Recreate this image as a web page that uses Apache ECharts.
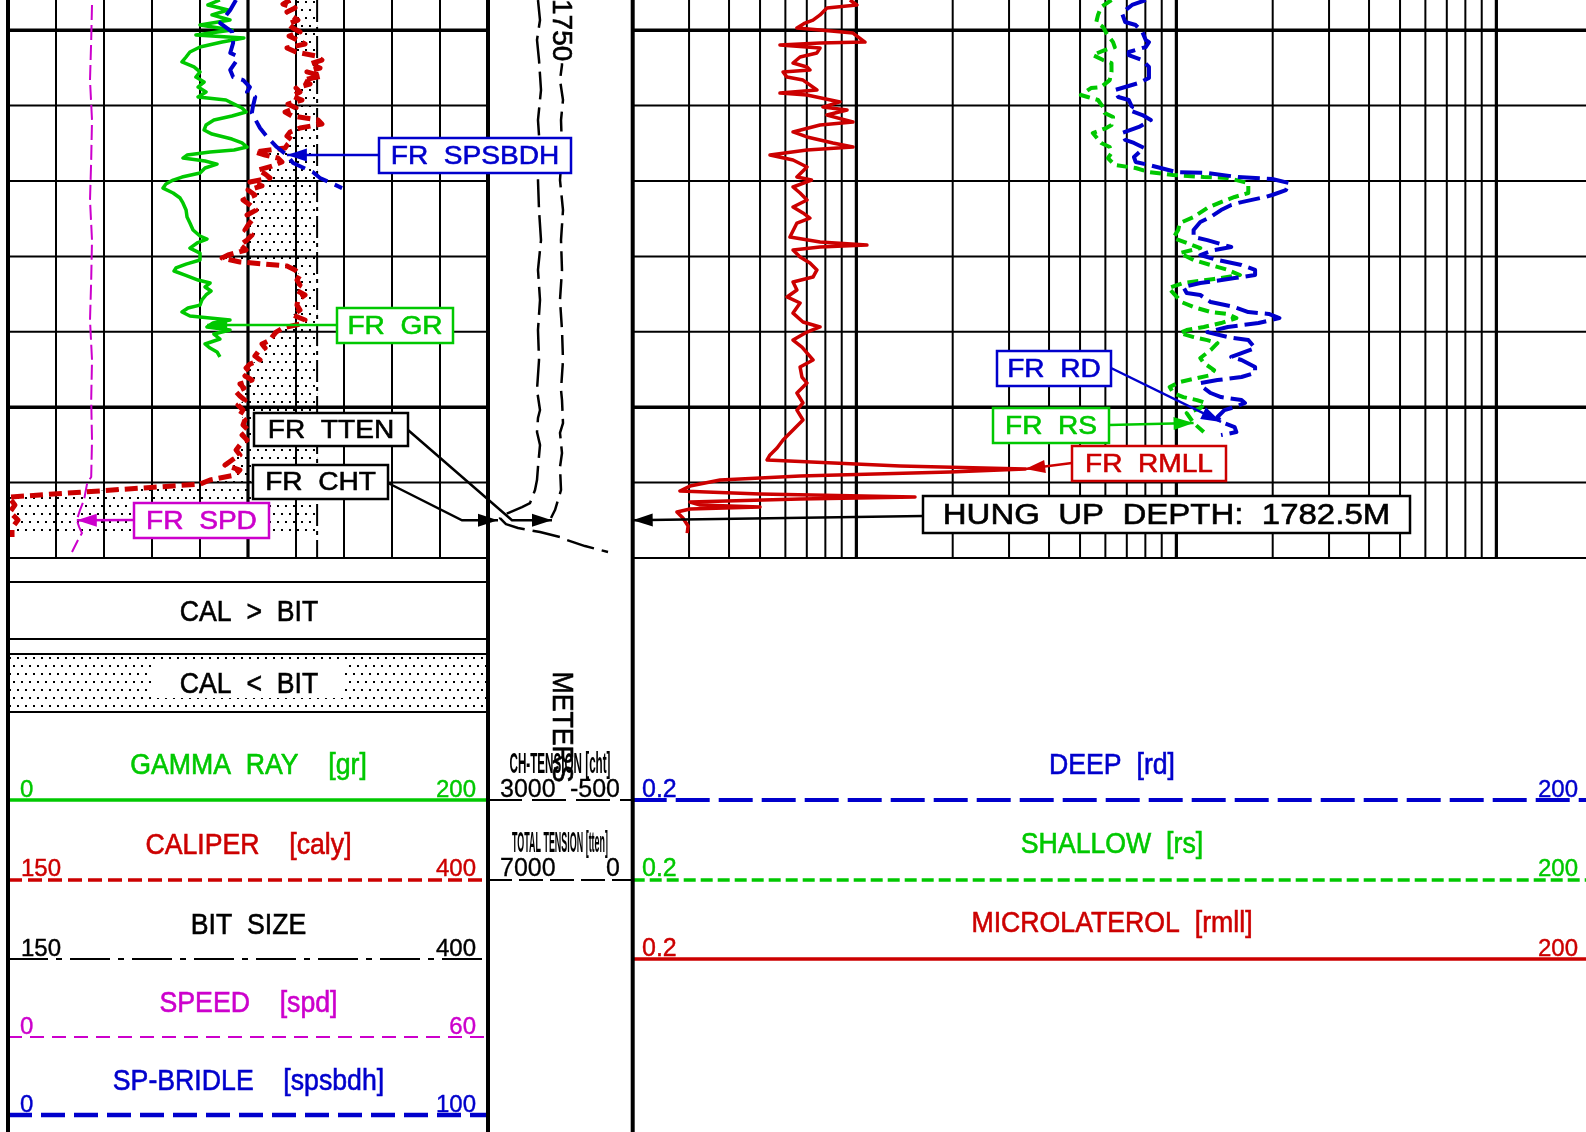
<!DOCTYPE html>
<html><head><meta charset="utf-8">
<script src="https://cdn.jsdelivr.net/npm/echarts@6/dist/echarts.min.js"></script>
<style>html,body{margin:0;padding:0;background:#fff}#c{width:1586px;height:1132px}</style>
</head><body><div id="c"></div>
<script>
// ---------------- DATA ----------------
const depthGrid = [1750,1755,1760,1765,1770,1775,1780,1785];
const depthGridMajor = [1750,1775];
const depthLabels = [1750];
const linGrid = [20,40,60,80,100,120,140,160,180];      // GR units (track 1 divisions)
const linGridMajor = [100];
const logGrid = [0.3,0.4,0.5,0.6,0.7,0.8,0.9,1,2,3,4,5,6,7,8,9,10,20,30,40,50,60,70,80,90,100];
const logGridMajor = [1,10,100];

const grDepth = [1748.00,1748.33,1748.66,1748.99,1749.33,1749.66,1749.99,1750.32,1750.52,1750.79,1751.12,1751.45,1751.78,1752.11,1752.44,1752.77,1753.11,1753.44,1753.77,1754.10,1754.43,1754.63,1754.90,1755.16,1755.43,1755.69,1755.96,1756.29,1756.62,1756.89,1757.22,1757.48,1757.75,1757.95,1758.08,1758.28,1758.48,1758.68,1758.88,1759.14,1759.47,1759.74,1759.94,1760.20,1760.47,1760.80,1761.13,1761.46,1761.93,1762.39,1762.79,1763.25,1763.65,1763.85,1764.11,1764.45,1764.78,1765.24,1765.51,1765.77,1765.97,1766.24,1766.57,1766.77,1767.03,1767.30,1767.56,1767.89,1768.23,1768.42,1768.69,1768.95,1769.22,1769.42,1769.68,1769.88,1770.15,1770.48,1770.81,1771.08,1771.34,1771.67];
const grValue = [88.3,83.3,91.7,85.0,92.5,80.0,93.3,78.3,98.3,89.2,80.0,75.8,74.2,72.5,77.5,80.0,78.3,81.7,79.2,82.5,79.2,90.8,94.2,97.5,99.2,93.3,85.8,82.5,81.7,85.0,93.3,97.5,99.6,94.2,84.2,74.6,72.9,82.1,87.1,82.1,80.0,72.5,68.8,65.8,64.6,68.8,71.7,72.9,74.2,74.6,75.8,77.1,80.0,82.9,78.8,75.8,80.0,80.0,74.2,70.0,69.2,73.8,79.2,84.2,82.1,84.6,82.5,80.8,80.0,75.0,72.5,75.8,92.5,85.4,82.9,92.5,85.8,88.3,82.1,84.2,87.1,88.3];

const calDepth = [1748.00,1748.27,1748.53,1748.80,1749.06,1749.33,1749.59,1749.86,1750.12,1750.39,1750.65,1750.92,1751.18,1751.45,1751.71,1751.98,1752.24,1752.51,1752.77,1753.04,1753.31,1753.57,1753.84,1754.10,1754.37,1754.63,1754.90,1755.16,1755.43,1755.69,1755.96,1756.22,1756.49,1756.75,1757.02,1757.28,1757.55,1757.81,1758.08,1758.28,1758.48,1758.74,1759.01,1759.27,1759.54,1759.80,1760.07,1760.33,1760.60,1760.93,1761.26,1761.59,1761.93,1762.26,1762.59,1762.92,1763.25,1763.58,1763.92,1764.25,1764.58,1764.91,1765.11,1765.37,1765.64,1765.90,1766.24,1766.57,1766.90,1767.23,1767.56,1767.89,1768.23,1768.56,1768.89,1769.22,1769.49,1769.75,1770.02,1770.28,1770.55,1770.81,1771.08,1771.34,1771.61,1771.87,1772.14,1772.40,1772.67,1772.93,1773.20,1773.46,1773.73,1773.99,1774.26,1774.53,1774.86,1775.19,1775.52,1775.85,1776.18,1776.51,1776.85,1777.18,1777.51,1777.84,1778.17,1778.50,1778.84,1779.17,1779.50,1779.83,1780.10,1780.96,1781.49,1781.95,1782.48,1783.01,1783.61];
const calValue = [296.9,293.2,299.5,295.3,297.9,301.0,295.8,298.4,302.1,296.4,300.5,304.7,295.3,300.0,310.4,313.5,307.3,312.5,305.7,313.5,303.6,307.3,300.0,302.1,297.9,303.1,295.8,300.0,294.3,297.9,311.5,313.5,302.1,296.9,295.3,297.9,295.8,294.3,278.6,283.9,290.6,292.7,287.5,280.2,283.9,286.5,276.0,282.3,275.0,278.6,272.4,276.0,279.2,274.5,277.1,275.0,273.4,277.1,274.5,270.8,274.0,264.6,261.5,270.8,295.3,299.5,302.1,300.5,302.1,300.0,304.7,301.0,300.5,302.1,298.4,304.7,302.1,293.2,289.6,288.0,286.5,282.3,283.9,280.2,278.6,281.3,276.0,274.0,276.0,273.4,277.1,270.8,272.9,268.8,270.8,273.4,269.8,272.4,270.8,273.4,272.4,275.0,271.9,274.5,270.8,268.8,270.8,266.7,263.0,270.8,268.2,255.2,250.0,150.5,153.6,151.0,155.2,152.1,152.1];

const bitDepth = [1748, 1785];
const bitValue = [311, 311];

const spDepth = [1748.00,1748.66,1749.53,1749.86,1750.12,1750.85,1751.51,1751.71,1751.98,1752.64,1753.11,1753.31,1753.77,1754.10,1754.43,1755.10,1755.49,1756.49,1757.08,1757.75,1758.28,1758.81,1759.41,1759.80,1760.47];
const spValue = [47.5,46.3,44.2,45.6,46.7,46.9,46.3,47.7,47.7,46.3,46.9,49.0,50.4,49.8,51.5,51.0,50.8,52.5,54.0,56.0,58.1,59.4,63.5,65.0,69.6];

const spdDepth = [1748.33,1750.65,1753.31,1755.96,1758.61,1761.26,1763.92,1766.57,1769.22,1771.87,1774.53,1777.18,1779.63,1780.03,1781.16,1781.82,1782.48,1782.95,1783.35,1783.81,1784.60];
const spdValue = [10.5,10.4,10.25,10.5,10.4,10.25,10.5,10.4,10.25,10.5,10.4,10.5,10.4,9.9,9.5,9.0,8.6,8.9,9.25,8.75,8.0];

const chtDepth = [1748.00,1749.33,1750.65,1751.98,1753.97,1755.96,1757.95,1759.94,1761.93,1763.92,1765.90,1767.89,1769.88,1771.87,1773.86,1775.19,1775.72,1776.65,1777.51,1778.97,1779.83,1780.49,1781.36,1781.62,1782.02,1782.35,1782.42,1782.75,1783.01,1783.28,1783.61,1783.81,1784.21,1784.60];
const chtValue = [1791,1742,1815,1766,1718,1791,1742,1791,1766,1718,1791,1742,1791,1766,1815,1742,1791,1815,1742,1791,1815,1863,1984,2178,2516,2710,2758,2565,2274,1742,1258,1089,654,97];

const ttenDepth = [1748.00,1749.99,1752.31,1753.31,1754.63,1755.96,1757.95,1759.94,1761.93,1763.92,1765.90,1767.89,1769.88,1771.87,1773.86,1774.53,1776.05,1776.71,1778.04,1778.97,1780.49,1781.16,1781.82,1782.35];
const ttenValue = [3420,3468,3420,3517,3372,3468,3420,3517,3372,3468,3420,3517,3420,3372,3468,3420,3372,3517,3420,3517,3468,3613,3759,3952];

const rmllDepth = [1748.00,1748.33,1748.53,1748.99,1749.33,1749.53,1749.86,1749.99,1750.19,1750.79,1750.85,1750.98,1751.18,1751.51,1751.78,1752.18,1752.44,1752.64,1752.77,1753.11,1753.31,1753.50,1753.97,1754.17,1754.30,1754.76,1755.10,1755.29,1755.63,1756.09,1756.29,1756.75,1757.08,1757.48,1757.75,1757.95,1758.28,1758.61,1759.07,1759.74,1759.94,1760.40,1760.80,1761.26,1761.73,1762.12,1762.46,1762.79,1763.72,1764.05,1764.25,1764.38,1764.58,1765.04,1765.44,1765.90,1766.37,1766.70,1767.23,1767.69,1768.09,1768.76,1769.35,1769.68,1770.02,1770.55,1771.01,1771.87,1772.34,1773.00,1773.40,1774.06,1774.72,1775.19,1775.85,1776.51,1777.18,1777.71,1778.17,1778.50,1778.90,1779.10,1779.30,1779.56,1779.83,1780.23,1780.56,1780.76,1780.96,1781.09,1781.29,1781.49,1781.62,1781.75,1781.95,1782.35,1782.88,1783.35];
const rmllValue = [0.955,1.004,0.809,0.770,0.732,0.691,0.652,0.770,0.976,1.064,0.770,0.577,0.770,0.753,0.667,0.634,0.701,0.716,0.590,0.607,0.681,0.701,0.753,0.577,0.701,0.889,0.786,0.935,0.809,0.976,0.770,0.634,0.701,0.845,0.976,0.701,0.537,0.634,0.701,0.652,0.724,0.634,0.667,0.701,0.634,0.681,0.716,0.652,0.620,0.770,1.079,0.770,0.634,0.667,0.716,0.753,0.732,0.634,0.652,0.607,0.667,0.634,0.681,0.770,0.701,0.634,0.676,0.732,0.667,0.676,0.701,0.652,0.681,0.652,0.681,0.634,0.590,0.565,0.537,0.526,1.37,3.37,1.96,0.667,0.375,0.302,0.281,0.50,1.525,0.667,0.302,0.325,0.50,0.302,0.275,0.287,0.298,0.296];

const rdDepth = [1748.00,1748.33,1748.86,1749.46,1749.66,1750.12,1750.65,1750.79,1751.12,1751.45,1751.65,1751.98,1752.44,1753.17,1753.50,1753.97,1754.43,1754.63,1755.10,1755.29,1755.63,1755.96,1756.42,1756.82,1757.28,1757.48,1757.81,1758.41,1758.74,1758.94,1759.41,1759.47,1759.74,1759.87,1760.14,1760.60,1760.93,1761.06,1761.40,1761.59,1761.93,1762.39,1762.72,1763.25,1763.72,1763.92,1764.38,1764.58,1764.91,1765.24,1765.57,1765.90,1766.24,1766.44,1766.77,1767.03,1767.43,1767.56,1768.03,1768.36,1768.69,1768.82,1769.09,1769.42,1769.68,1770.02,1770.35,1770.55,1771.08,1771.41,1771.67,1771.87,1772.34,1772.73,1773.00,1773.20,1773.40,1773.73,1774.06,1774.33,1774.53,1774.72,1774.99,1775.19,1775.65,1775.98,1776.32,1776.65,1776.85];
const rdValue = [8.02,7.27,6.76,6.92,7.46,7.83,8.02,8.21,8.02,7.10,7.10,7.83,8.21,8.21,7.64,6.42,6.58,7.10,7.27,7.10,7.83,8.32,7.64,6.76,6.92,7.37,7.93,7.37,7.46,8.21,10.01,12.49,15.58,19.93,22.54,21.99,19.93,18.98,15.98,14.84,13.79,12.80,11.88,11.32,11.32,12.49,14.84,13.12,11.88,13.44,15.98,17.62,17.62,15.21,11.88,10.51,10.77,11.88,12.80,15.21,16.78,19.45,20.99,18.06,14.48,12.49,14.48,16.78,17.62,15.98,14.84,15.98,17.62,17.62,15.98,13.44,11.88,12.18,12.80,13.79,15.98,16.38,15.21,14.13,13.44,13.79,15.21,15.40,13.79];

const rsDepth = [1748.00,1748.46,1748.99,1749.46,1749.79,1750.19,1750.79,1751.12,1751.32,1751.65,1751.98,1752.18,1752.77,1753.31,1753.77,1753.84,1754.30,1754.43,1754.63,1755.10,1755.49,1755.76,1756.29,1756.49,1756.82,1757.48,1757.75,1758.15,1758.48,1758.94,1759.14,1759.41,1759.60,1759.74,1759.80,1760.14,1760.80,1761.06,1761.40,1761.79,1762.39,1762.79,1763.25,1763.78,1764.11,1764.45,1764.78,1765.24,1765.57,1765.90,1766.24,1766.50,1766.77,1767.10,1767.43,1768.03,1768.36,1768.69,1768.82,1769.09,1769.42,1769.68,1769.88,1770.08,1770.35,1770.55,1770.75,1771.21,1771.74,1772.07,1772.54,1772.87,1773.07,1773.33,1773.66,1774.06,1774.33,1774.53,1774.72,1775.06,1775.39,1776.05,1776.65];
const rsValue = [6.27,5.82,5.69,5.62,5.90,6.04,6.34,6.42,5.97,5.48,5.90,6.27,6.27,6.19,5.82,5.41,5.03,5.28,5.69,5.90,5.97,6.34,6.27,6.04,5.48,5.82,6.19,6.27,6.11,6.42,7.46,8.21,9.76,12.18,14.48,16.78,16.78,15.21,13.79,12.49,11.32,10.25,10.13,9.78,10.77,11.88,10.25,11.32,12.80,14.48,15.8,13.12,10.51,9.45,9.78,10.38,11.32,12.80,14.48,15.40,13.79,12.18,10.77,10.25,11.32,12.49,13.44,12.80,11.88,12.18,13.12,12.80,11.60,10.25,9.53,9.78,10.51,11.60,12.34,11.88,10.77,11.32,12.18];

const hungUpDepth = 1782.5;

// ---------------- STYLE / LAYOUT ----------------
const GREEN = '#00c800', RED = '#cc0000', BLUE = '#0000cc', MAG = '#cc00cc', BLACK = '#000';
const FONT = '"Liberation Sans", Arial, sans-serif';
const TOP = 0, H = 558;
const T1 = [8, 480], T2 = [488, 144.7], T3 = [632.7, 960];

const pc = document.createElement('canvas'); pc.width = 8; pc.height = 16;
const pg = pc.getContext('2d'); pg.fillStyle = '#000';
pg.fillRect(1, 1, 2, 2); pg.fillRect(5, 9, 2, 2);
const dotPattern = { image: pc, repeat: 'repeat' };

const zip = (v, d) => { const n = Math.min(v.length, d.length), a = []; for (let i = 0; i < n; i++) a.push([v[i], d[i]]); return a; };
const hx = (g, min, max, inv) => ({ type: 'value', gridIndex: g, min, max, inverse: !!inv, show: false });
const hy = (g) => ({ type: 'value', gridIndex: g, min: 1748, max: 1785, inverse: true, show: false });

function curve(xi, yi, vals, deps, color, width, dash) {
  return { type: 'line', xAxisIndex: xi, yAxisIndex: yi, data: zip(vals, deps), showSymbol: false, symbol: 'none',
    z: 5, silent: true, animation: false, emphasis: { disabled: true },
    lineStyle: { color, width, type: dash || 'solid', cap: 'butt', join: 'round' } };
}
function hLines(xi, yi, x0, x1) {
  return { type: 'custom', xAxisIndex: xi, yAxisIndex: yi, silent: true, clip: false, z: 1,
    data: depthGrid.map(d => [x0, d, depthGridMajor.includes(d) ? 1 : 0]),
    renderItem: (p, api) => { const d = api.value(1); const a = api.coord([x0, d]), b = api.coord([x1, d]);
      return { type: 'line', shape: { x1: a[0], y1: a[1], x2: b[0], y2: b[1] }, style: { stroke: BLACK, lineWidth: api.value(2) ? 3.5 : 2 } }; } };
}
function vLines(xi, yi, vals, majors) {
  return { type: 'custom', xAxisIndex: xi, yAxisIndex: yi, silent: true, clip: false, z: 1,
    data: vals.map(v => [v, 1748, majors.includes(v) ? 1 : 0]),
    renderItem: (p, api) => { const v = api.value(0); const a = api.coord([v, 1748]), b = api.coord([v, 1785]);
      return { type: 'line', shape: { x1: a[0], y1: a[1], x2: b[0], y2: b[1] }, style: { stroke: BLACK, lineWidth: api.value(2) ? 3.2 : 2 } }; } };
}
const fillData = [];
for (let i = 0; i < Math.min(calValue.length, calDepth.length) - 1; i++) fillData.push([calValue[i], calDepth[i], calValue[i + 1], calDepth[i + 1]]);

const option = {
  animation: false, backgroundColor: '#fff',
  grid: [
    { left: T1[0], top: TOP, width: T1[1], height: H, outerBoundsMode: 'none' },
    { left: T2[0], top: TOP, width: T2[1], height: H, outerBoundsMode: 'none' },
    { left: T3[0], top: TOP, width: T3[1], height: H, outerBoundsMode: 'none' }
  ],
  xAxis: [hx(0, 0, 200), hx(0, 150, 400), hx(0, 0, 60), hx(0, 0, 100), hx(1, -500, 3000, true), hx(1, 0, 7000, true),
    { type: 'log', logBase: 10, gridIndex: 2, min: 0.2, max: 200, show: false }],
  yAxis: [hy(0), hy(1), hy(2)],
  series: [
    hLines(0, 0, 0, 200), vLines(0, 0, linGrid, linGridMajor),
    hLines(6, 2, 0.2, 200), vLines(6, 2, logGrid, logGridMajor),
    { type: 'custom', xAxisIndex: 1, yAxisIndex: 0, silent: true, z: 2, data: fillData,
      renderItem: (p, api) => { const b = bitValue[0];
        const c1 = api.value(0), d1 = api.value(1), c2 = api.value(2), d2 = api.value(3);
        const pts = [api.coord([Math.min(c1, b), d1]), api.coord([b, d1]), api.coord([b, d2]), api.coord([Math.min(c2, b), d2])];
        return { type: 'polygon', shape: { points: pts }, style: { fill: dotPattern, stroke: null } }; } },
    curve(1, 0, bitValue, bitDepth, BLACK, 2, [22, 5, 4, 5]),
    curve(2, 0, spdValue, spdDepth, MAG, 2, [15, 5]),
    curve(0, 0, grValue, grDepth, GREEN, 3.5),
    curve(1, 0, calValue, calDepth, RED, 5, [13, 6]),
    curve(3, 0, spValue, spDepth, BLUE, 4, [18, 8]),
    curve(4, 1, chtValue, chtDepth, BLACK, 2.5, [28, 8]),
    curve(5, 1, ttenValue, ttenDepth, BLACK, 2.5, [20, 8]),
    curve(6, 2, rmllValue, rmllDepth, RED, 3.5),
    curve(6, 2, rsValue, rsDepth, GREEN, 4, [11, 6]),
    curve(6, 2, rdValue, rdDepth, BLUE, 4, [22, 7])
  ]
};

const chart = echarts.init(document.getElementById('c'), null, { renderer: 'canvas' });
chart.setOption(option);

// ---------------- GRAPHIC (headers, borders, annotations) ----------------
const G = [];
const mctx = document.createElement('canvas').getContext('2d');
function measure(s, font) { mctx.font = font; return mctx.measureText(s).width; }
function line(x1, y1, x2, y2, color, w, dash, z) {
  G.push({ type: 'line', z: z || 10, silent: true, shape: { x1, y1, x2, y2 }, style: { stroke: color, lineWidth: w, lineDash: dash || null } });
}
function text(x, y, s, color, size, o) {
  o = o || {};
  const font = (o.bold ? 'bold ' : '') + size + 'px ' + FONT;
  const st = { text: s, fill: color, font, align: o.align || 'center', verticalAlign: 'middle',
    textAlign: o.align || 'center', textVerticalAlign: 'middle' };
  if (o.heavy) { st.stroke = color; st.lineWidth = o.heavy; }
  if (o.bg) { st.backgroundColor = o.bg; st.padding = o.pad || [0, 0]; }
  let sx = o.sx || 1;
  if (o.fitW) sx = o.fitW / measure(s, font);
  G.push({ type: 'text', x, y, z: o.z || 20, silent: true, rotation: o.rot || 0, scaleX: sx, scaleY: o.sy || 1, style: st });
}
function rect(x, y, w, h, fill, stroke, lw, z) {
  G.push({ type: 'rect', z: z || 10, silent: true, shape: { x, y, width: w, height: h }, style: { fill: fill, stroke: stroke || null, lineWidth: lw || 0 } });
}
function arrowHead(tip, from, len, half, color, z) {
  const dx = tip[0] - from[0], dy = tip[1] - from[1], L = Math.hypot(dx, dy) || 1, ux = dx / L, uy = dy / L;
  const bx = tip[0] - ux * len, by = tip[1] - uy * len;
  G.push({ type: 'polygon', z: z || 60, silent: true, shape: { points: [[tip[0], tip[1]], [bx - uy * half, by + ux * half], [bx + uy * half, by - ux * half]] }, style: { fill: color } });
}

// borders
const X1 = T1[0], X2 = T2[0], X3 = T3[0];
line(X1, 0, X1, 1132, BLACK, 4, null, 30);
line(X2, 0, X2, 1132, BLACK, 4, null, 30);
line(X3, 0, X3, 1132, BLACK, 4, null, 30);

// left header boxes
line(X1, 582, X2, 582, BLACK, 2);
line(X1, 639, X2, 639, BLACK, 2);
line(X1, 654, X2, 654, BLACK, 2);
line(X1, 712, X2, 712, BLACK, 2);
rect(X1, 655, X2 - X1, 56, dotPattern, null, 0, 8);
rect(152, 665, 193, 33, '#fff', null, 0, 9);
const TS = 29, TSX = 0.92, HV = 0.6, DY = 2.5;
text(249, 610 + DY, 'CAL  >  BIT', BLACK, TS, { sx: TSX, heavy: HV });
text(249, 682 + DY, 'CAL  <  BIT', BLACK, TS, { sx: TSX, heavy: HV });

// left legends
const LC = 248.5;
text(LC, 763 + DY, 'GAMMA  RAY    [gr]', GREEN, TS, { sx: TSX, heavy: HV });
text(20, 788 + DY, '0', GREEN, 24, { align: 'left', heavy: 0.4 }); text(476, 788 + DY, '200', GREEN, 24, { align: 'right', heavy: 0.4 });
line(X1, 800, X2, 800, GREEN, 3.5);
text(LC, 843 + DY, 'CALIPER    [caly]', RED, TS, { sx: TSX, heavy: HV });
text(21, 867 + DY, '150', RED, 24, { align: 'left', heavy: 0.4 }); text(476, 867 + DY, '400', RED, 24, { align: 'right', heavy: 0.4 });
line(X1, 880, X2, 880, RED, 3.5, [14, 6]);
text(LC, 923 + DY, 'BIT  SIZE', BLACK, TS, { sx: TSX, heavy: HV });
text(21, 947 + DY, '150', BLACK, 24, { align: 'left', heavy: 0.4 }); text(476, 947 + DY, '400', BLACK, 24, { align: 'right', heavy: 0.4 });
line(X1, 959, X2, 959, BLACK, 2, [40, 8, 6, 8]);
text(LC, 1001 + DY, 'SPEED    [spd]', MAG, TS, { sx: TSX, heavy: HV });
text(20, 1025 + DY, '0', MAG, 24, { align: 'left', heavy: 0.4 }); text(476, 1025 + DY, '60', MAG, 24, { align: 'right', heavy: 0.4 });
line(X1, 1037, X2, 1037, MAG, 2, [14, 8]);
text(LC, 1079 + DY, 'SP-BRIDLE    [spsbdh]', BLUE, TS, { sx: TSX, heavy: HV });
text(20, 1103 + DY, '0', BLUE, 24, { align: 'left', heavy: 0.4 }); text(476, 1103 + DY, '100', BLUE, 24, { align: 'right', heavy: 0.4 });
line(X1, 1115, X2, 1115, BLUE, 4.5, [24, 9]);

// depth track header
text(560, 765, 'CH-TENSION [cht]', BLACK, 30, { bold: true, fitW: 101 });
text(500, 788 + DY, '3000', BLACK, 25, { align: 'left', heavy: 0.3 }); text(620, 788 + DY, '-500', BLACK, 25, { align: 'right', heavy: 0.3 });
line(X2, 800, X3, 800, BLACK, 2, [34, 10]);
text(560, 844, 'TOTAL TENSION [tten]', BLACK, 30, { bold: true, fitW: 96 });
text(500, 867 + DY, '7000', BLACK, 25, { align: 'left', heavy: 0.3 }); text(620, 867 + DY, '0', BLACK, 25, { align: 'right', heavy: 0.3 });
line(X2, 880, X3, 880, BLACK, 2, [24, 7]);
text(561, 727, 'METERS', BLACK, 29, { rot: -Math.PI / 2, sx: TSX, z: 25, heavy: HV });

// right header
const RC = 1112;
text(RC, 763 + DY, 'DEEP  [rd]', BLUE, TS, { sx: TSX, heavy: HV });
text(642, 788 + DY, '0.2', BLUE, 25, { align: 'left', heavy: 0.4 }); text(1578, 788 + DY, '200', BLUE, 24, { align: 'right', heavy: 0.4 });
line(X3, 800, 1586, 800, BLUE, 4, [34, 9]);
text(RC, 842 + DY, 'SHALLOW  [rs]', GREEN, TS, { sx: TSX, heavy: HV });
text(642, 867 + DY, '0.2', GREEN, 25, { align: 'left', heavy: 0.4 }); text(1578, 867 + DY, '200', GREEN, 24, { align: 'right', heavy: 0.4 });
line(X3, 880, 1586, 880, GREEN, 3.5, [12, 5]);
text(RC, 921 + DY, 'MICROLATEROL  [rmll]', RED, TS, { sx: TSX, heavy: HV });
text(642, 947 + DY, '0.2', RED, 25, { align: 'left', heavy: 0.4 }); text(1578, 947 + DY, '200', RED, 24, { align: 'right', heavy: 0.4 });
line(X3, 959, 1586, 959, RED, 3.5);

// depth labels
depthLabels.forEach(d => {
  const p = chart.convertToPixel({ xAxisIndex: 4, yAxisIndex: 1 }, [1250, d]);
  text(561, p[1], String(d), BLACK, 28, { rot: -Math.PI / 2, bg: '#fff', pad: [1, 2], z: 40, heavy: HV });
});

// annotations
const notes = [
  { t: 'FR  SPSBDH', c: BLUE, box: [379, 138, 192, 35], from: [379, 155], via: [], f: { xAxisIndex: 3, yAxisIndex: 0 }, v: [58.1, 1758.28] },
  { t: 'FR  GR', c: GREEN, box: [337, 308, 116, 35], from: [337, 325], via: [], f: { xAxisIndex: 0, yAxisIndex: 0 }, v: [83, 1769.55] },
  { t: 'FR  TTEN', c: BLACK, box: [254, 413, 154, 33], from: [408, 430], via: [512], f: { xAxisIndex: 5, yAxisIndex: 1 }, v: [3904, hungUpDepth] },
  { t: 'FR  CHT', c: BLACK, box: [253, 465, 135, 34], from: [388, 483], via: [462], f: { xAxisIndex: 4, yAxisIndex: 1 }, v: [2758, hungUpDepth] },
  { t: 'FR  SPD', c: MAG, box: [134, 503, 135, 35], from: [134, 520], via: [], f: { xAxisIndex: 2, yAxisIndex: 0 }, v: [8.6, hungUpDepth] },
  { t: 'FR  RD', c: BLUE, box: [997, 351, 114, 35], from: [1111, 368], via: [], f: { xAxisIndex: 6, yAxisIndex: 2 }, v: [13.79, 1775.98] },
  { t: 'FR  RS', c: GREEN, box: [993, 408, 116, 35], from: [1109, 425], via: [], f: { xAxisIndex: 6, yAxisIndex: 2 }, v: [11.32, 1776.05] },
  { t: 'FR  RMLL', c: RED, box: [1072, 446, 154, 35], from: [1072, 463], via: [], f: { xAxisIndex: 6, yAxisIndex: 2 }, v: [3.37, 1779.10] },
  { t: 'HUNG  UP  DEPTH:  1782.5M', c: BLACK, box: [923, 496, 487, 37], from: [923, 516], via: [], f: { xAxisIndex: 6, yAxisIndex: 2 }, v: [0.2, hungUpDepth], size: 30, sx: 1.1 }
];
notes.forEach(n => {
  const tip = chart.convertToPixel(n.f, n.v);
  const pts = [n.from].concat(n.via.map(x => [x, tip[1]])).concat([tip]);
  G.push({ type: 'polyline', z: 55, silent: true, shape: { points: pts }, style: { stroke: n.c, lineWidth: 2.5, fill: null } });
  arrowHead(tip, pts[pts.length - 2], 20, 6.5, n.c, 56);
  const b = n.box;
  rect(b[0], b[1], b[2], b[3], '#fff', n.c, 2.5, 70);
  text(b[0] + b[2] / 2, b[1] + b[3] / 2 + 1, n.t, n.c, n.size || 26, { sx: n.sx || 1.08, z: 75, heavy: 0.6 });
});

chart.setOption({ graphic: { elements: G } });
</script></body></html>
